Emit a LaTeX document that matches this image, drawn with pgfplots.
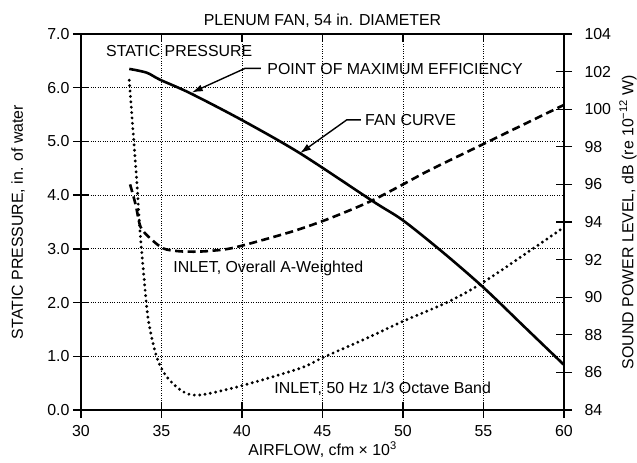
\documentclass[border=0pt]{standalone}
\usepackage{fontspec}
\setmainfont{Liberation Sans}
\usepackage{pgfplots}
\pgfplotsset{compat=1.18}
\usetikzlibrary{arrows.meta}

\pgfplotstableread{
x y
33.0 6.35
34.08 6.28
34.9 6.15
36.77 5.90
39.98 5.40
43.6 4.78
48.16 3.88
50.0 3.53
52.5 2.93
55.0 2.28
57.5 1.56
60.0 0.84
}\staticp

\pgfplotstableread{
x y
33.05 96.0
33.4 94.9
33.7 93.74
34.29 93.14
35.1 92.6
36.0 92.45
37.0 92.42
38.0 92.46
39.32 92.6
41.32 93.05
43.4 93.57
45.47 94.2
47.95 95.09
50.0 96.0
51.68 96.77
55.0 98.15
60.0 100.23
}\overall

\pgfplotstableread{
x y
33.0 101.54
33.23 98.86
33.46 96.23
33.66 93.57
33.87 91.46
34.18 88.80
34.7 86.83
35.32 85.77
36.35 84.97
37.4 84.80
39.98 85.29
43.6 86.22
45.05 86.80
47.75 87.82
50.0 88.72
52.8 89.75
55.0 90.80
58.1 92.60
60.0 93.72
}\octave

\newcommand{\fs}{\fontsize{15.9bp}{18bp}\selectfont}

\begin{document}
\begin{tikzpicture}[font=\fs]
\pgfplotsset{
  base/.style={
    scale only axis, width=483bp, height=376bp,
    xmin=30, xmax=60,
    /pgf/number format/assume math mode=true,
    tick label style={font=\fs},
    label style={font=\fs, inner sep=0pt},
    axis line style={line width=1.4bp},
    every tick/.style={black, line width=1.3bp},
    major tick length=16bp,
    tick align=center,
  }
}
\begin{axis}[base, name=ax,
  ymin=0, ymax=7,
  xtick={30,35,...,60}, ytick={0,1,...,7},
  xtick pos=bottom, ytick pos=left,
  xticklabel style={yshift=-4bp},
  grid=major, grid style={black, dotted, line width=0.8bp},
  yticklabel style={/pgf/number format/.cd, fixed, fixed zerofill, precision=1},
  xlabel={AIRFLOW, cfm × 10\textsuperscript{3}},
  xlabel style={at={(axis description cs:0.5,-0.1117)}, anchor=base, yshift=-4bp},
  ylabel={STATIC PRESSURE, in. of water},
  ylabel style={at={(axis description cs:-0.1304,0.5)}, anchor=center},
  title={PLENUM FAN, 54 in. DIAMETER},
  title style={at={(axis description cs:0.5,1.0213)}, anchor=base, yshift=-5bp, inner sep=0pt},
  clip=false,
]
\addplot[black, line width=2.6bp, smooth, tension=0.5] table {\staticp};
\node[anchor=west, inner sep=0] at (axis cs:31.55,6.69) {STATIC PRESSURE};
\node[anchor=west, inner sep=0] at (axis cs:41.57,6.35) {POINT OF MAXIMUM EFFICIENCY};
\draw[line width=1.4bp, -{Latex[length=11bp,width=7bp]}] (axis cs:41.18,6.36) -- (axis cs:40.19,6.36) -- (axis cs:36.88,5.91);
\node[anchor=west, inner sep=0] at (axis cs:47.64,5.39) {FAN CURVE};
\draw[line width=1.4bp, -{Latex[length=11bp,width=7bp]}] (axis cs:47.39,5.40) -- (axis cs:46.5,5.40) -- (axis cs:43.6,4.78);
\node[anchor=west, inner sep=0] at (axis cs:35.73,2.64) {INLET, Overall A-Weighted};
\node[anchor=west, inner sep=0] at (axis cs:42.0,0.40) {INLET, 50 Hz 1/3 Octave Band};
\end{axis}
\begin{axis}[base,
  ymin=84, ymax=104, ytick={84,86,...,104},
  xtick=\empty, ytick pos=right, yticklabel pos=right,
  yticklabel style={xshift=9bp},
  ylabel={SOUND POWER LEVEL, dB (re 10\textsuperscript{−12} W)},
  ylabel style={at={(axis description cs:1.1325,0.5)}, anchor=center},
]
\addplot[black, line width=2.6bp, dash pattern=on 8bp off 4.5bp, smooth, tension=0.5] table {\overall};
\addplot[black, line width=3.2bp, line cap=round, dash pattern=on 0bp off 5.4bp, smooth, tension=0.5] table {\octave};
\end{axis}
\begin{axis}[base,
  ymin=0, ymax=7, ytick=\empty,
  xtick={30,35,...,60}, xticklabels={}, xtick pos=top,
  tick align=inside, major tick length=8bp,
]
\end{axis}
\path ([xshift=-81bp,yshift=-53bp]ax.south west) rectangle ([xshift=73bp,yshift=34bp]ax.north east);
\end{tikzpicture}
\end{document}
